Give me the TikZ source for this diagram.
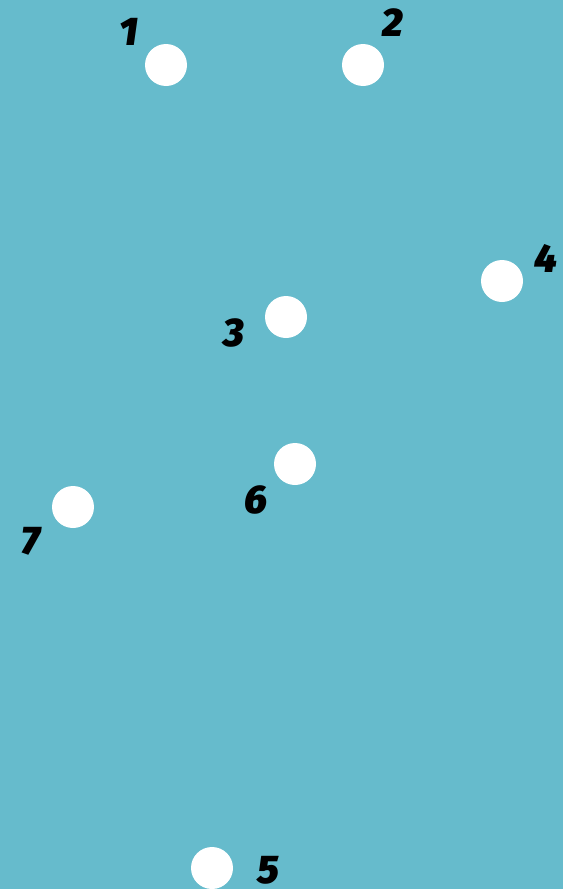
\documentclass[tikz,border=0pt]{standalone}
\usepackage{fontspec}
\setmainfont{Fira Sans}[BoldItalicFont={Fira Sans Black Italic}]
\definecolor{bgteal}{HTML}{66BBCC}
\begin{document}
\begin{tikzpicture}[x=1pt,y=-1pt,
  dot/.style={circle,fill=white,minimum size=42pt,inner sep=0pt},
  num/.style={font=\fontsize{40}{40}\selectfont\bfseries\itshape,text=black,inner sep=0pt}]
\fill[bgteal] (0,0) rectangle (563,889);
\useasboundingbox (0,0) rectangle (563,889);
\node[dot] (d1) at (166,65) {};
\node[dot] (d2) at (363,65) {};
\node[dot] (d3) at (286,317) {};
\node[dot] (d4) at (502,281) {};
\node[dot] (d5) at (212,868) {};
\node[dot] (d6) at (295,464) {};
\node[dot] (d7) at (73,507) {};
\node[num] (l1) at (129,32) {1};
\node[num] (l2) at (393,23) {2};
\node[num] (l3) at (234,333) {3};
\node[num] (l4) at (546,258) {4};
\node[num] (l5) at (268,870) {5};
\node[num] (l6) at (256,500) {6};
\node[num] (l7) at (31,541) {7};
\end{tikzpicture}
\end{document}
